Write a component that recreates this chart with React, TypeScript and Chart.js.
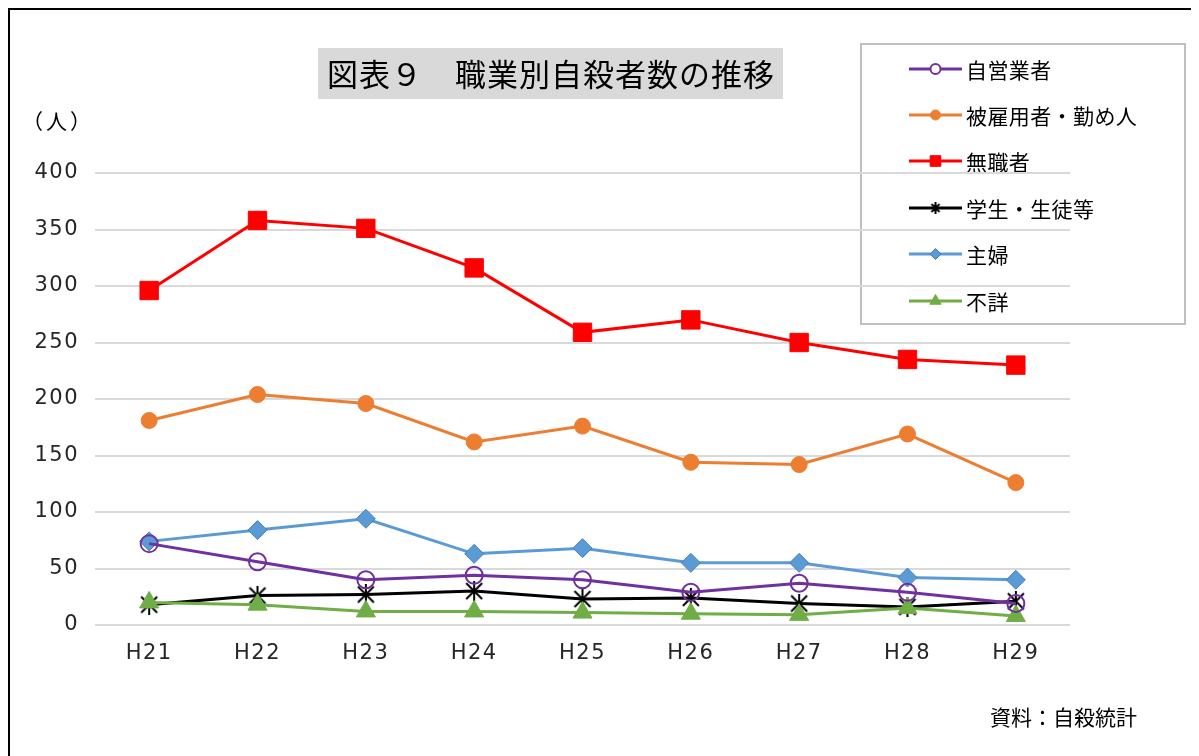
import React, { useEffect, useRef } from 'react';
import { Chart, registerables } from 'chart.js';
import { drawPoint } from 'chart.js/helpers';

Chart.register(...registerables);

const categories = ['H21', 'H22', 'H23', 'H24', 'H25', 'H26', 'H27', 'H28', 'H29'];
const selfEmployed = [72, 56, 40, 44, 40, 29, 37, 29, 19];
const employed = [181, 204, 196, 162, 176, 144, 142, 169, 126];
const unemployed = [296, 358, 351, 316, 259, 270, 250, 235, 230];
const students = [18, 26, 27, 30, 23, 24, 19, 16, 21];
const housewives = [74, 84, 94, 63, 68, 55, 55, 42, 40];
const unknown = [20, 18, 12, 12, 11, 10, 9, 15, 8];
const seriesLabels = ['自営業者', '被雇用者・勤め人', '無職者', '学生・生徒等', '主婦', '不詳'];
const titleText = '図表９　職業別自殺者数の推移';
const unitText = '（人）';
const sourceText = '資料：自殺統計';
const yMin = 0;
const yMax = 400;
const yStep = 50;

const FONT = '"Noto Sans CJK JP", "Noto Sans", sans-serif';
const TICK_FONT = '"DejaVu Sans", "Noto Sans", sans-serif';

function makeStar(size: number, lw: number) {
  const c = document.createElement('canvas');
  c.width = size;
  c.height = size;
  const ctx = c.getContext('2d')!;
  ctx.strokeStyle = '#000';
  ctx.lineWidth = lw;
  const m = lw;
  ctx.beginPath();
  ctx.moveTo(m, m);
  ctx.lineTo(size - m, size - m);
  ctx.moveTo(size - m, m);
  ctx.lineTo(m, size - m);
  ctx.moveTo(size / 2, 0);
  ctx.lineTo(size / 2, size);
  ctx.stroke();
  return c;
}

export default function App() {
  const ref = useRef<HTMLCanvasElement>(null);

  useEffect(() => {
    const canvas = ref.current!;
    const star = makeStar(20, 2);
    const starSmall = makeStar(12, 2);

    const colors = ['#7030a0', '#ed7d31', '#ff0000', '#000000', '#5b9bd5', '#70ad47'];
    const fills = ['rgba(255,255,255,0)', '#ed7d31', '#ff0000', '#000000', '#5b9bd5', '#70ad47'];
    const borders = ['#7030a0', '#ed7d31', '#ff0000', '#000000', '#4a7ebb', '#70ad47'];
    const styles: any[] = ['circle', 'circle', 'rect', star, 'rectRot', 'triangle'];
    const legendStyles: any[] = ['circle', 'circle', 'rect', starSmall, 'rectRot', 'triangle'];
    const radii = [8.5, 8, 13, 10, 9.5, 11];
    const legendRadii = [5, 5, 7.5, 6, 5.5, 6.5];
    const bw = [2, 1, 1, 1, 1, 1];
    const orders = [0, 3, 4, 2, 5, 1];
    const values = [selfEmployed, employed, unemployed, students, housewives, unknown];

    const datasets = values.map((d, i) => ({
      label: seriesLabels[i],
      data: d,
      borderColor: colors[i],
      backgroundColor: fills[i],
      borderWidth: 3,
      pointStyle: styles[i],
      pointRadius: radii[i],
      pointBackgroundColor: fills[i],
      pointBorderColor: borders[i],
      pointBorderWidth: bw[i],
      tension: 0,
      order: orders[i],
    }));

    const decor = {
      id: 'decor',
      beforeDraw(chart: any) {
        const ctx = chart.ctx as any;
        ctx.save();
        // title
        ctx.fillStyle = '#d9d9d9';
        ctx.fillRect(310, 40, 465, 51);
        ctx.fillStyle = '#000';
        ctx.font = `31px ${FONT}`;
        ctx.letterSpacing = '1px';
        ctx.textAlign = 'left';
        ctx.textBaseline = 'middle';
        ctx.fillText(titleText, 319, 66);
        // legend box
        ctx.fillStyle = '#fff';
        ctx.fillRect(853, 36, 324, 280);
        ctx.strokeStyle = '#bfbfbf';
        ctx.lineWidth = 2;
        ctx.strokeRect(853, 36, 324, 280);
        const rows = [61, 107, 153, 200, 246, 293];
        rows.forEach((y, i) => {
          ctx.strokeStyle = colors[i];
          ctx.lineWidth = 3;
          ctx.beginPath();
          ctx.moveTo(901, y);
          ctx.lineTo(954, y);
          ctx.stroke();
          ctx.fillStyle = i === 0 ? '#fff' : fills[i];
          ctx.strokeStyle = borders[i];
          ctx.lineWidth = bw[i];
          drawPoint(ctx, { pointStyle: legendStyles[i], radius: legendRadii[i], rotation: 0, borderWidth: bw[i] } as any, 927.5, y);
          ctx.fillStyle = '#000';
          ctx.font = `21px ${FONT}`;
          ctx.letterSpacing = '0.4px';
          ctx.textAlign = 'left';
          ctx.textBaseline = 'middle';
          ctx.fillText(seriesLabels[i], 958, y + 1);
        });
        // unit
        ctx.fillStyle = '#000';
        ctx.font = `21px ${FONT}`;
        ctx.letterSpacing = '3px';
        ctx.fillText(unitText, 14, 113);
        // source
        ctx.letterSpacing = '0px';
        ctx.fillText(sourceText, 982, 709);
        ctx.restore();
        ctx.letterSpacing = '1.5px';
      },
      afterDraw(chart: any) {
        (chart.ctx as any).letterSpacing = '0px';
      },
    };

    const chart = new Chart(canvas, {
      type: 'line',
      data: { labels: categories, datasets },
      options: {
        animation: false,
        responsive: false,
        layout: { padding: { left: 0, right: 129, top: 165, bottom: 81 } },
        plugins: { legend: { display: false }, tooltip: { enabled: false }, title: { display: false } },
        scales: {
          x: {
            offset: true,
            grid: { display: false },
            border: { display: false },
            ticks: { color: '#262626', font: { family: TICK_FONT, size: 21 }, padding: 8 },
            afterFit: (s: any) => { s.height = 50; },
          },
          y: {
            min: yMin,
            max: yMax,
            grid: { color: '#d9d9d9', lineWidth: 2, drawTicks: false },
            border: { display: false },
            ticks: { stepSize: yStep, color: '#262626', font: { family: TICK_FONT, size: 21 }, padding: 16 },
            afterFit: (s: any) => { s.width = 87; },
          },
        },
      },
      plugins: [decor],
    } as any);
    return () => chart.destroy();
  }, []);

  return (
    <div style={{ position: 'relative', width: 1191, height: 748, overflow: 'hidden' }}>
      <div style={{ position: 'absolute', left: 0, top: 0, width: 1190, height: 760, border: '2px solid #000', boxSizing: 'border-box' }} />
      <canvas ref={ref} width={1191} height={748} style={{ position: 'absolute', left: 0, top: 0 }} />
    </div>
  );
}
